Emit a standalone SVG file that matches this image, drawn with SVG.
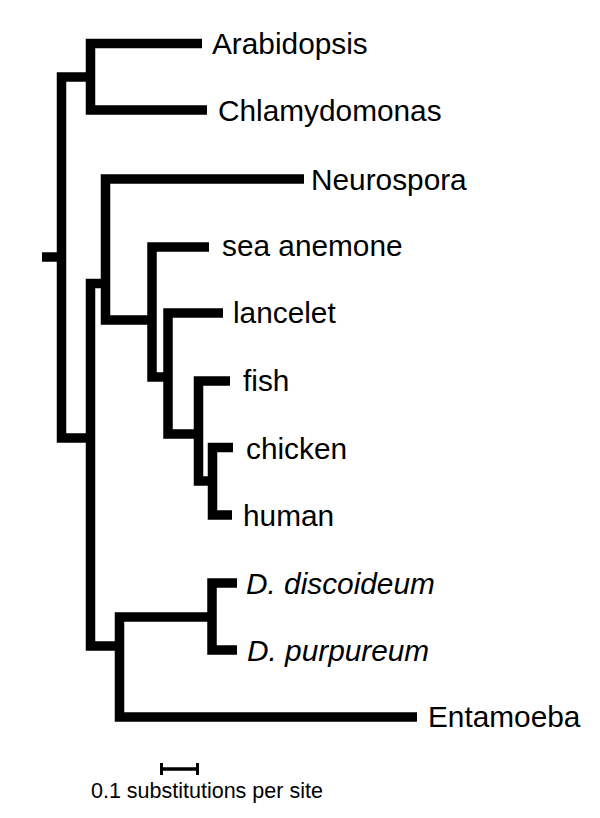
<svg xmlns="http://www.w3.org/2000/svg" width="600" height="818" viewBox="0 0 600 818">
<style>
.br{fill:none;stroke:#000;stroke-width:9.5;stroke-linejoin:miter;stroke-linecap:butt}
.lb{font-family:"Liberation Sans",Arial,Helvetica,sans-serif;font-size:29.8px;fill:#000}
.it{font-style:italic}
.sc{font-family:"Liberation Sans",Arial,Helvetica,sans-serif;font-size:21.5px;fill:#000}
</style>
<rect width="600" height="818" fill="#fff"/>
<g id="connectors">
<path class="br" d="M42 257 H61.5"/>
<path class="br" d="M90.5 77 H61.5 V438 H90.5"/>
<path class="br" d="M202 43.5 H90.5 V110 H207"/>
<path class="br" d="M105.5 283.5 H90.5 V646 H119.5"/>
<path class="br" d="M304 179 H105.5 V320 H152"/>
<path class="br" d="M209 247 H152 V377 H168"/>
<path class="br" d="M223 313 H168 V434 H198.5"/>
<path class="br" d="M230 381 H198.5 V481 H212.5"/>
<path class="br" d="M233 447.5 H212.5 V515 H232"/>
<path class="br" d="M212 617 H119.5 V717 H417"/>
<path class="br" d="M237 583 H212 V650 H237"/>
</g>
<g id="n-arabidopsis"><text class="lb" x="212" y="54">Arabidopsis</text></g>
<g id="n-chlamydomonas"><text class="lb" x="218" y="121">Chlamydomonas</text></g>
<g id="n-neurospora"><text class="lb" x="311" y="190">Neurospora</text></g>
<g id="n-seaanemone"><text class="lb" x="222" y="256">sea anemone</text></g>
<g id="n-lancelet"><text class="lb" x="233" y="323">lancelet</text></g>
<g id="n-fish"><text class="lb" x="243" y="391">fish</text></g>
<g id="n-chicken"><text class="lb" x="246" y="459">chicken</text></g>
<g id="n-human"><text class="lb" x="243" y="526">human</text></g>
<g id="n-ddiscoideum"><text class="lb it" x="246" y="594">D. discoideum</text></g>
<g id="n-dpurpureum"><text class="lb it" x="247" y="661">D. purpureum</text></g>
<g id="n-entamoeba"><text class="lb" x="428" y="727">Entamoeba</text></g>
<g id="scale">
<path d="M160 769 H199" stroke="#000" stroke-width="3.5" fill="none"/>
<path d="M161.5 763 V775 M197.5 763 V775" stroke="#000" stroke-width="3" fill="none"/>
<text class="sc" x="91" y="798">0.1 substitutions per site</text>
</g>
</svg>
